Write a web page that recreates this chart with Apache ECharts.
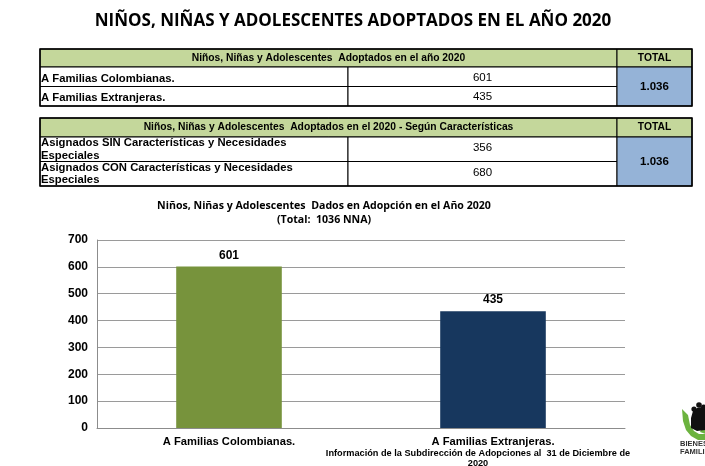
<!DOCTYPE html>
<html><head><meta charset="utf-8">
<script src="https://cdn.jsdelivr.net/npm/echarts@6/dist/echarts.min.js"></script>
<style>html,body{margin:0;padding:0;background:#fff}#c{width:705px;height:466px}</style>
</head><body><div id="c"></div>
<script>
const mainTitle = 'NIÑOS, NIÑAS Y ADOLESCENTES ADOPTADOS EN EL AÑO 2020';
const table1Header = 'Niños, Niñas y Adolescentes  Adoptados en el año 2020';
const table1Labels = ['A Familias Colombianas.', 'A Familias Extranjeras.'];
const table1Values = ['601', '435'];
const table1Total = '1.036';
const table2Header = 'Niños, Niñas y Adolescentes  Adoptados en el 2020 - Según Características';
const table2Labels = ['Asignados SIN Características y Necesidades\nEspeciales', 'Asignados CON Características y Necesidades\nEspeciales'];
const table2Values = ['356', '680'];
const table2Total = '1.036';
const chartTitle = 'Niños, Niñas y Adolescentes  Dados en Adopción en el Año 2020';
const chartSubtitle = '(Total:  1036 NNA)';
const categories = ['A Familias Colombianas.', 'A Familias Extranjeras.'];
const values = [601, 435];
const barColors = ['#77933c', '#17375e'];
const footerText = 'Información de la Subdirección de Adopciones al  31 de Diciembre de\n2020';

const F = 'Liberation Sans, Arial, sans-serif';
const GREEN_H = '#c4d79b', BLUE_T = '#95b3d7';

function table(top, headerH, rowH, header, labels, vals, total, twoLine) {
  const L = 40, R = 692, S = 348, T = 617;
  const els = [];
  const bodyH = rowH * labels.length;
  els.push({type:'rect', shape:{x:L, y:top, width:T-L, height:headerH}, style:{fill:GREEN_H, stroke:'#000', lineWidth:1}});
  els.push({type:'rect', shape:{x:T, y:top, width:R-T, height:headerH}, style:{fill:GREEN_H, stroke:'#000', lineWidth:1}});
  els.push({type:'text', style:{x:(L+T)/2, y:top+headerH/2, text:header, align:'center', verticalAlign:'middle', font:'bold 10.3px '+F, fill:'#000'}});
  els.push({type:'text', style:{x:(T+R)/2, y:top+headerH/2, text:'TOTAL', align:'center', verticalAlign:'middle', font:'bold 10.3px '+F, fill:'#000'}});
  for (let i=0;i<labels.length;i++){
    const y = top+headerH+i*rowH;
    els.push({type:'rect', shape:{x:L, y:y, width:S-L, height:rowH}, style:{fill:'#fff', stroke:'#000', lineWidth:1}});
    els.push({type:'rect', shape:{x:S, y:y, width:T-S, height:rowH}, style:{fill:'#fff', stroke:'#000', lineWidth:1}});
    els.push({type:'text', style:{x:L+1, y:y+rowH/2+(twoLine?0:2), text:labels[i], align:'left', verticalAlign:'middle', font:'bold 11.3px '+F, fill:'#000', lineHeight:12.5}});
    els.push({type:'text', style:{x:(S+T)/2, y:y+rowH/2+(twoLine?-1:1), text:vals[i], align:'center', verticalAlign:'middle', font:'11.5px '+F, fill:'#000'}});
  }
  els.push({type:'rect', shape:{x:T, y:top+headerH, width:R-T, height:bodyH}, style:{fill:BLUE_T, stroke:'#000', lineWidth:1}});
  els.push({type:'text', style:{x:(T+R)/2, y:top+headerH+bodyH/2, text:total, align:'center', verticalAlign:'middle', font:'bold 11.5px '+F, fill:'#000'}});
  els.push({type:'rect', shape:{x:L, y:top, width:R-L, height:headerH+bodyH}, style:{fill:'none', stroke:'#000', lineWidth:1.5}});
  return els;
}

const logo = [
  {type:'polygon', shape:{points:[[682,409],[683,421],[686,430],[691,436],[698,440],[706,440],[706,434],[699,434],[694,431],[690,425],[688,415]]}, style:{fill:'#6cb33f'}},
  {type:'polygon', shape:{points:[[706,411],[704,423],[700,432],[706,434]]}, style:{fill:'#6cb33f'}},
  {type:'polygon', shape:{points:[[691,428],[691,418],[693,411],[697,408],[702,407],[705,409],[705,430],[697,431]]}, style:{fill:'#111'}},
  {type:'circle', shape:{cx:694, cy:409, r:2.6}, style:{fill:'#111'}},
  {type:'circle', shape:{cx:699, cy:405, r:2.8}, style:{fill:'#111'}},
  {type:'circle', shape:{cx:703.5, cy:407, r:2.5}, style:{fill:'#111'}},
  {type:'text', style:{x:680, y:444, text:'BIENEST', font:'bold 7.5px '+F, fill:'#333', verticalAlign:'middle'}},
  {type:'text', style:{x:680, y:452, text:'FAMILI', font:'bold 7.5px '+F, fill:'#333', verticalAlign:'middle'}}
];

const chart = echarts.init(document.getElementById('c'));
chart.setOption({
  animation:false,
  backgroundColor:'#fff',
  grid:{left:97, right:80, top:240, bottom:38},
  xAxis:{type:'category', data:categories,
    axisLine:{show:true, lineStyle:{color:'#8c8c8c', width:1}}, axisTick:{show:false},
    axisLabel:{color:'#000', fontWeight:'bold', fontSize:11.2, fontFamily:F, margin:8}},
  yAxis:{type:'value', min:0, max:700, interval:100,
    axisLine:{show:true, lineStyle:{color:'#8c8c8c', width:1}}, axisTick:{show:false},
    axisLabel:{color:'#000', fontWeight:'bold', fontSize:12, fontFamily:F, margin:9},
    splitLine:{lineStyle:{color:'#9a9a9a', width:1}}},
  series:[{type:'bar', barWidth:'40%',
    data:values.map((v,i)=>({value:v, itemStyle:{color:barColors[i]}})),
    label:{show:true, position:'top', distance:5, color:'#000', fontWeight:'bold', fontSize:12, fontFamily:F}}],
  graphic:[].concat(
    [{type:'text', style:{x:353, y:21, text:mainTitle, align:'center', verticalAlign:'middle', font:'bold 17px Open Sans, sans-serif', fill:'#000'}}],
    table(49, 18, 19.5, table1Header, table1Labels, table1Values, table1Total, false),
    table(118, 19, 24.5, table2Header, table2Labels, table2Values, table2Total, true),
    [{type:'text', style:{x:324, y:206, text:chartTitle, align:'center', verticalAlign:'middle', font:'bold 10.6px Open Sans, sans-serif', fill:'#000'}},
     {type:'text', style:{x:324, y:220, text:chartSubtitle, align:'center', verticalAlign:'middle', font:'bold 10.6px Open Sans, sans-serif', fill:'#000'}},
     {type:'text', style:{x:478, y:458, text:footerText, align:'center', verticalAlign:'middle', font:'bold 9.2px '+F, fill:'#000', lineHeight:10}}],
    logo)
});
</script></body></html>
